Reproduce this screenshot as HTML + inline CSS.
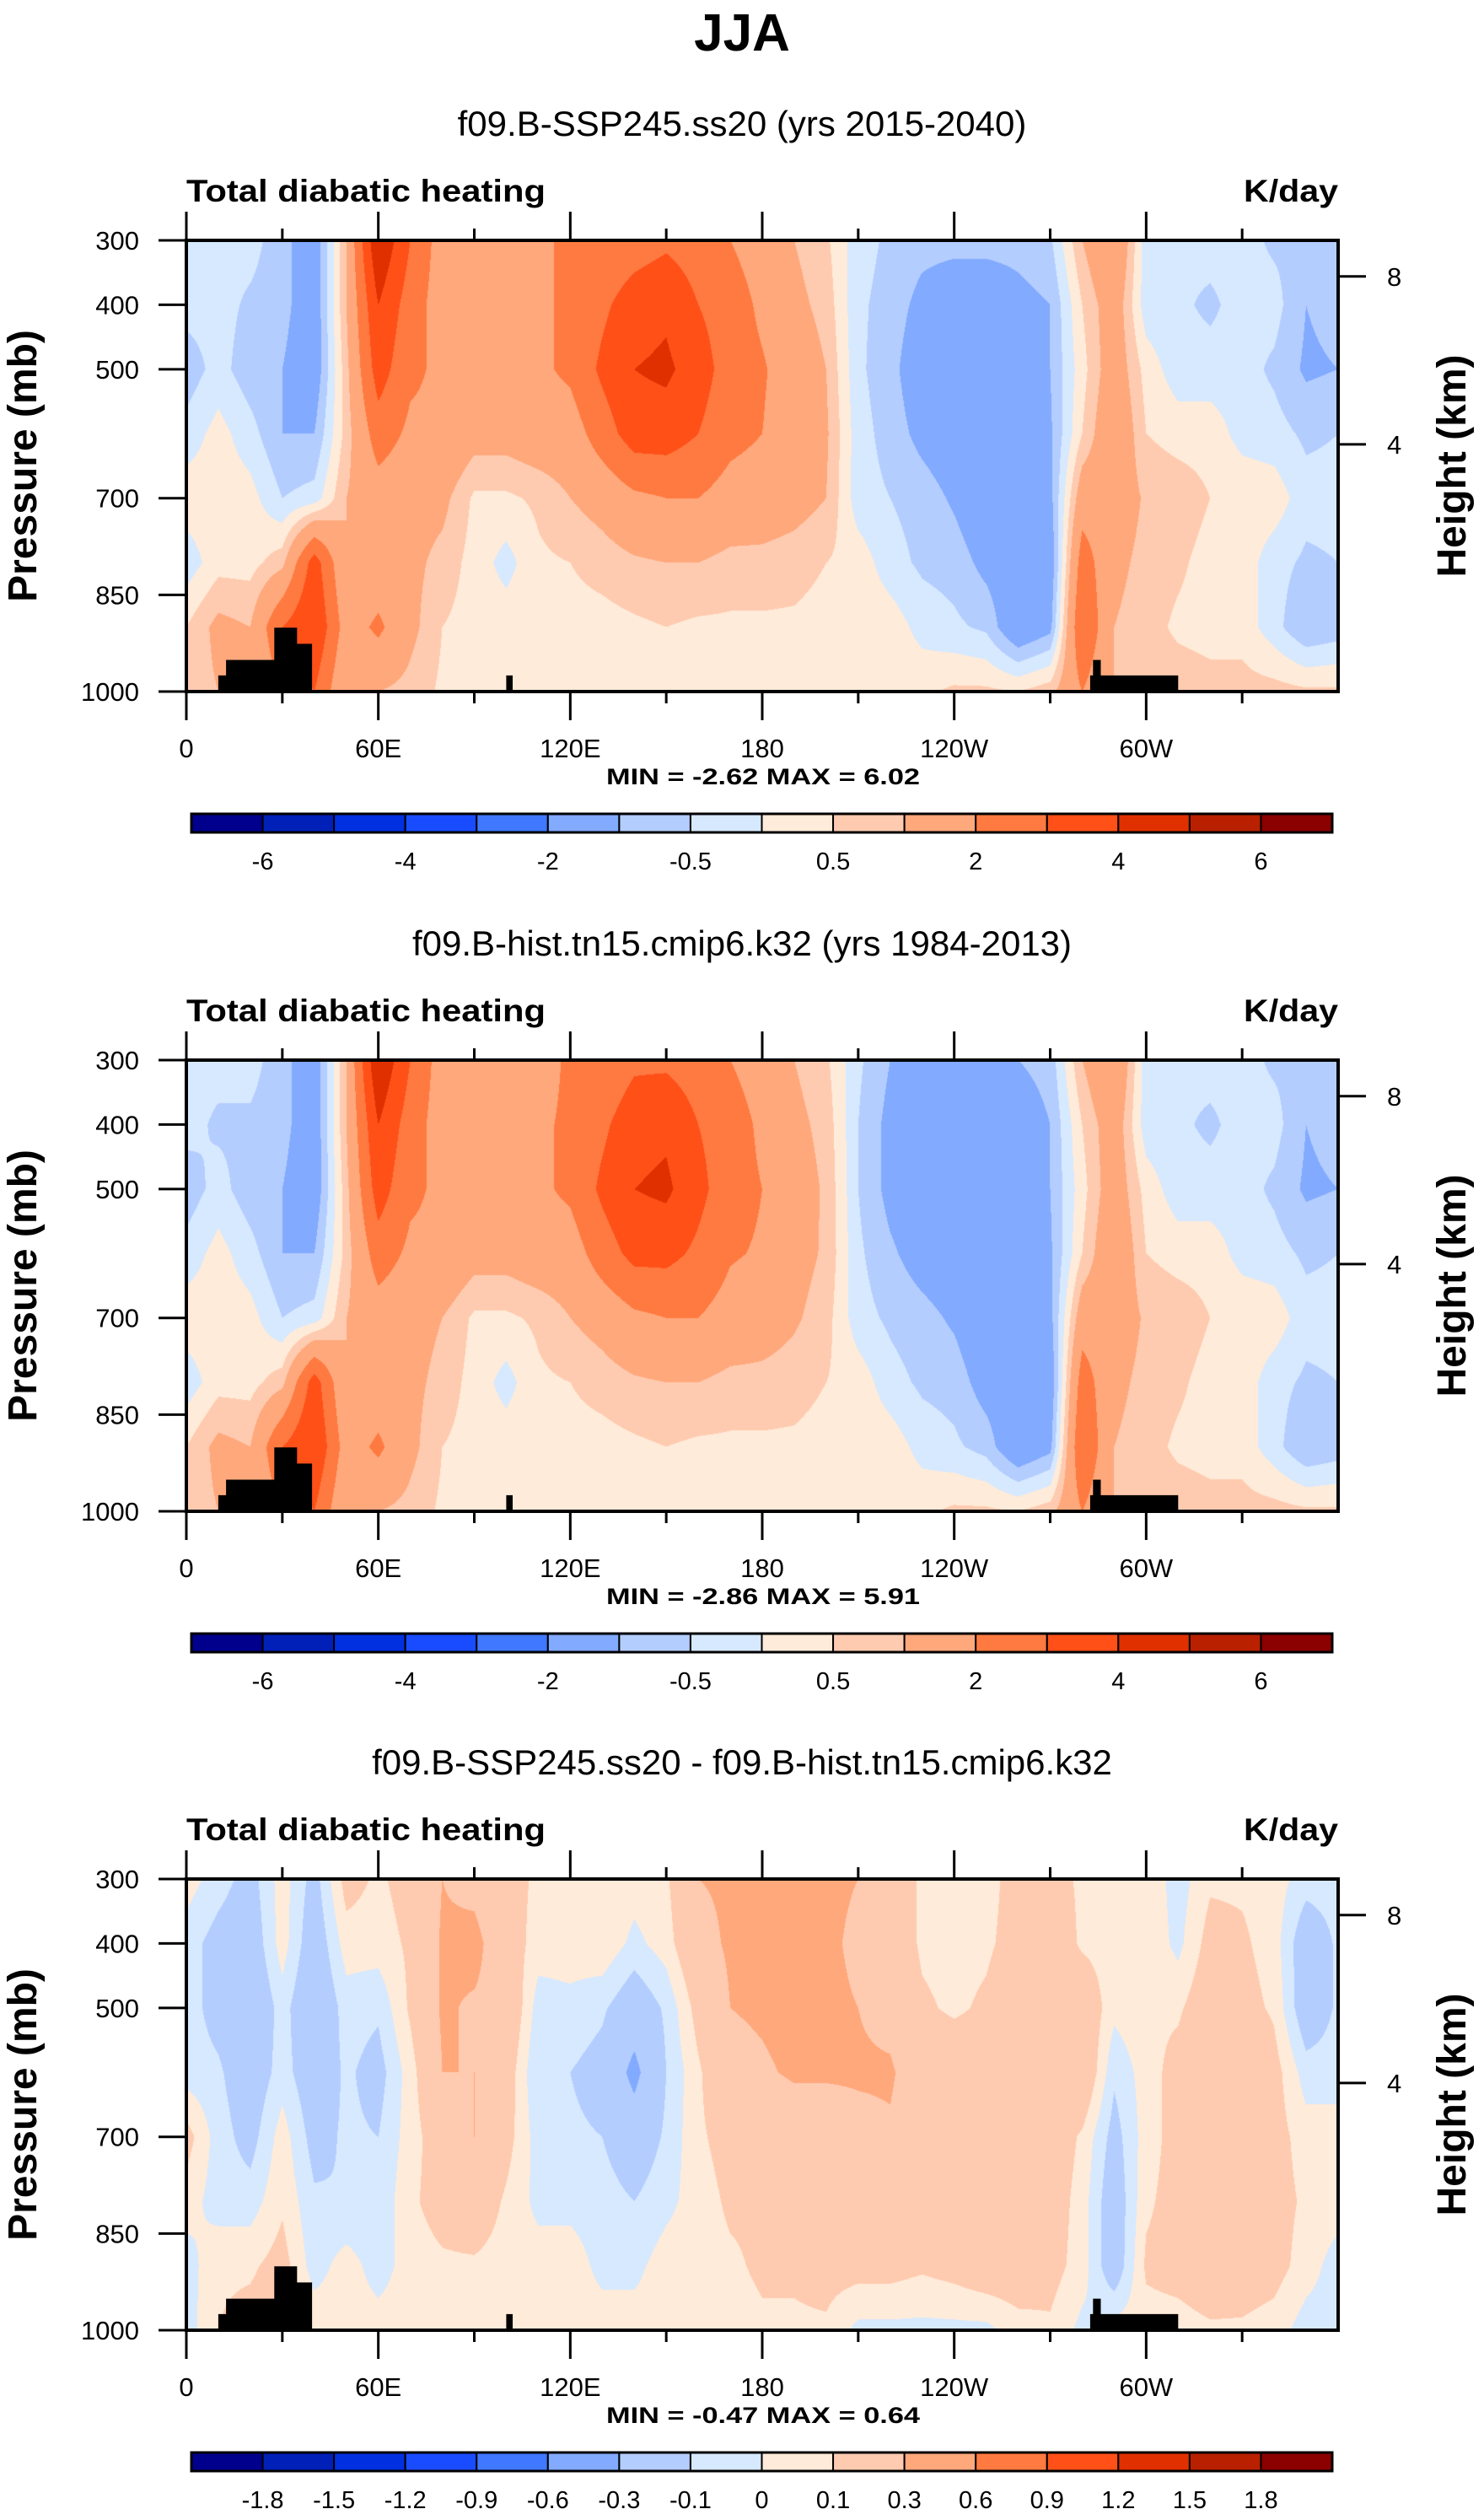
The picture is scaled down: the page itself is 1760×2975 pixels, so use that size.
<!DOCTYPE html>
<html><head><meta charset="utf-8">
<style>
html,body{margin:0;padding:0;background:#fff;}
#page{position:relative;width:1760px;height:2975px;overflow:hidden;background:#fff;font-family:"Liberation Sans",sans-serif;}
canvas{position:absolute;}
svg{position:absolute;left:0;top:0;}
</style></head>
<body>
<div id="page">
<canvas id="c1"></canvas>
<canvas id="c2"></canvas>
<canvas id="c3"></canvas>
<svg id="ov" width="1760" height="2975"></svg>
</div>
<script>
// ---- data ----
const lons = [0,10,20,30,40,50,60,70,80,90,100,110,120,130,140,150,160,170,180,190,200,210,220,230,240,250,260,270,280,290,300,310,320,330,340,350,360];
const pres = [300,400,500,600,700,800,900,1000];
const field1 = [
[-0.3,-0.3,-0.8,-0.3,0.3,-0.3,0.5,0.7],
[-0.3,-0.3,-0.3,0.2,0.3,0.3,1.2,1],
[-0.3,-0.6,-0.8,-0.3,0.2,0.3,1,1],
[-0.8,-0.8,-1,-1,-0.5,0.8,3,2],
[-1.5,-1.5,-1.5,-1,-0.3,3.5,4,3],
[1,1,0.8,0.7,1,1,1.5,1],
[5,4,3.5,2.5,1.5,1.3,2.2,1],
[3,2.5,2.2,1.8,1.3,1.2,1.2,0.8],
[1.5,1.5,1.8,1.8,1.2,0.8,0.5,0.4],
[1.2,1.5,1.5,1.3,0.4,0.3,0.3,0.3],
[1,1.5,1.5,1.3,0.4,-0.2,0.3,0.4],
[1.5,1.8,1.8,1.5,0.6,0.4,0.4,0.4],
[2.5,2.2,2.2,1.5,1,0.5,0.3,0.4],
[2.2,2.8,3.2,2.5,1.3,0.7,0.3,0.3],
[2.5,3.5,4,3.5,1.8,0.9,0.4,0.3],
[2.8,3.8,4.2,3.5,2,1,0.5,0.4],
[2.5,3,3.5,3,2,1,0.4,0.4],
[2,2.5,2.5,2.3,1.6,0.8,0.4,0.4],
[1.5,1.8,2.1,2,1.5,0.8,0.4,0.4],
[1,1.2,1.5,1.5,1.3,0.7,0.4,0.4],
[0.6,0.8,1,1.1,1,0.5,0.3,0.4],
[-0.3,-0.4,-0.4,-0.3,-0.3,0.3,0.4,0.4],
[-0.6,-0.7,-0.8,-0.7,-0.5,-0.3,0.3,0.4],
[-0.8,-1.2,-1.5,-1.2,-0.7,-0.6,-0.2,0.4],
[-0.8,-1.5,-1.5,-1.5,-1.1,-0.7,-0.4,0.6],
[-0.8,-1.5,-1.5,-1.5,-1.6,-1.2,-0.6,0.6],
[-0.8,-1.2,-1.5,-1.5,-1.5,-1.5,-1.7,0.5],
[-0.6,-1,-1,-1.1,-1.2,-1.5,-1.2,0.8],
[1,0.5,0.3,0.5,1.5,2.5,3,2],
[2,1.5,1.5,1.8,1.5,1.2,1,1],
[-0.3,-0.3,0.3,0.5,0.9,0.8,0.7,0.8],
[-0.4,-0.4,-0.3,0.3,0.8,0.6,0.4,0.8],
[-0.3,-0.6,-0.3,0.3,0.5,0.3,0.3,0.7],
[-0.3,-0.3,-0.3,-0.2,0.4,0.3,0.3,0.7],
[-0.6,-0.3,-0.6,-0.3,0.3,-0.3,-0.3,0.7],
[-0.6,-1,-1.1,-0.6,-0.3,-0.6,-1,0.6],
[-0.6,-0.8,-1,-0.5,-0.3,-0.5,-0.8,0.6]
];
const field2 = [
[-0.3,-0.3,-0.8,-0.3,0.3,-0.3,0.5,0.7],
[-0.3,-0.6,-0.3,0.2,0.3,0.3,1.2,1],
[-0.3,-0.6,-0.8,-0.3,0.2,0.3,1,1],
[-0.8,-0.8,-1,-1,-0.5,0.8,3,2],
[-1.5,-1.5,-1.5,-1,-0.3,3.5,4,3],
[1,1,0.8,0.7,1,1,1.5,1],
[5,4,3.5,2.5,1.5,1.3,2.2,1],
[3,2.5,2.2,1.8,1.3,1.2,1.2,0.8],
[1.5,1.5,1.8,1.8,1,0.8,0.5,0.4],
[1.2,1.5,1.5,1.3,0.4,0.3,0.3,0.3],
[1,1.5,1.5,1.3,0.4,-0.2,0.3,0.4],
[1.5,1.8,1.8,1.5,0.6,0.4,0.4,0.4],
[2.2,2.2,2.2,1.5,1,0.5,0.3,0.4],
[2.2,2.8,3.2,2.5,1.3,0.7,0.3,0.3],
[2.8,3.6,4,3.3,1.8,0.9,0.4,0.3],
[2.8,3.8,4.2,3.3,2,1,0.5,0.4],
[2.5,3,3.3,2.8,2,1,0.4,0.4],
[2,2.5,2.4,2.1,1.6,0.8,0.4,0.4],
[1.5,1.8,2,1.9,1.4,0.8,0.4,0.4],
[1,1.2,1.4,1.3,1.1,0.7,0.4,0.4],
[0.6,0.8,0.9,0.9,0.7,0.5,0.3,0.4],
[-0.4,-0.5,-0.5,-0.4,-0.3,0.3,0.4,0.4],
[-1,-1.2,-1.2,-0.9,-0.6,-0.3,0.3,0.4],
[-1.2,-1.5,-1.5,-1.3,-0.8,-0.6,-0.2,0.4],
[-1.2,-1.6,-1.6,-1.5,-1.1,-0.7,-0.4,0.6],
[-1.2,-1.6,-1.6,-1.5,-1.6,-1.3,-0.7,0.6],
[-1,-1.4,-1.5,-1.5,-1.5,-1.5,-1.7,0.5],
[-0.8,-1,-1,-1.1,-1.2,-1.5,-1.2,0.8],
[1,0.5,0.3,0.5,1.5,2.5,3,2],
[2,1.5,1.5,1.8,1.5,1.2,1,1],
[-0.3,-0.3,0.3,0.5,0.9,0.8,0.7,0.8],
[-0.4,-0.4,-0.3,0.3,0.8,0.6,0.4,0.8],
[-0.3,-0.6,-0.3,0.3,0.5,0.3,0.3,0.7],
[-0.3,-0.3,-0.3,-0.2,0.4,0.3,0.3,0.7],
[-0.6,-0.3,-0.6,-0.3,0.3,-0.3,-0.3,0.7],
[-0.6,-1,-1.1,-0.6,-0.3,-0.6,-1,0.6],
[-0.6,-0.8,-1,-0.5,-0.3,-0.5,-0.8,0.6]
];
const field3 = [
[0.05,-0.05,-0.05,-0.05,0.15,0.05,-0.05,-0.05],
[-0.05,-0.15,-0.15,-0.08,-0.05,-0.05,0.08,0.1],
[-0.15,-0.2,-0.25,-0.2,-0.15,-0.05,0.08,0.15],
[0.05,0.05,-0.05,-0.05,0.05,0.08,0.15,0.2],
[-0.15,-0.2,-0.25,-0.2,-0.15,-0.08,-0.05,0.08],
[0.15,0.05,-0.05,-0.08,-0.08,-0.1,0.05,0.05],
[0.08,0.05,-0.08,-0.15,-0.1,-0.08,-0.05,0.05],
[0.15,0.12,0.12,0.05,0.05,0.08,0.05,0.05],
[0.3,0.32,0.32,0.3,0.18,0.15,0.08,0.05],
[0.25,0.35,0.28,0.3,0.3,0.2,0.08,0.05],
[0.15,0.18,0.25,0.18,0.15,0.08,0.05,0.05],
[0.08,0.05,-0.05,-0.1,-0.05,-0.03,0.05,0.05],
[0.08,0.05,-0.03,-0.1,-0.08,-0.03,0.05,0.05],
[0.1,0.08,-0.08,-0.15,-0.1,-0.05,-0.03,0.05],
[0.05,-0.03,-0.2,-0.35,-0.2,-0.1,-0.03,0.05],
[0.08,0.05,-0.08,-0.1,-0.08,-0.03,0.05,0.05],
[0.3,0.25,0.15,0.08,0.08,0.05,0.05,0.05],
[0.32,0.32,0.3,0.25,0.15,0.12,0.08,0.05],
[0.32,0.35,0.32,0.28,0.18,0.12,0.12,0.08],
[0.35,0.35,0.35,0.32,0.2,0.15,0.12,0.08],
[0.35,0.35,0.35,0.32,0.2,0.15,0.15,0.08],
[0.3,0.25,0.3,0.32,0.25,0.2,0.15,-0.03],
[0.2,0.2,0.25,0.32,0.28,0.2,0.15,-0.03],
[0.08,0.08,0.12,0.2,0.2,0.18,0.12,-0.03],
[0.06,0.06,0.08,0.2,0.2,0.2,0.15,-0.03],
[0.06,0.08,0.12,0.18,0.2,0.25,0.2,-0.03],
[0.15,0.15,0.2,0.2,0.2,0.2,0.2,0.05],
[0.15,0.2,0.2,0.2,0.2,0.18,0.15,0.08],
[0.08,0.08,0.22,0.25,0.08,0.05,0.05,-0.03],
[0.05,0.05,0.03,-0.08,-0.15,-0.2,-0.2,0.05],
[0.08,0.08,0.08,0.05,0.05,0.08,0.12,0.05],
[-0.05,-0.03,0.08,0.15,0.15,0.15,0.15,0.05],
[0.08,0.15,0.2,0.28,0.25,0.22,0.2,0.08],
[0.08,0.12,0.15,0.3,0.28,0.22,0.18,0.08],
[0.05,0.05,0.08,0.15,0.15,0.15,0.15,0.05],
[-0.05,-0.2,-0.2,-0.05,0.05,0.08,0.05,-0.05],
[-0.05,-0.08,-0.08,-0.05,0.05,0.05,-0.05,-0.05]
];
const levelsAbs = [-6,-5,-4,-3,-2,-1,-0.5,0,0.5,1,2,3,4,5,6];
const labelsAbs = ["-6","-4","-2","-0.5","0.5","2","4","6"];
const labelIdxAbs = [0,2,4,6,8,10,12,14];
const levelsDiff = [-1.8,-1.5,-1.2,-0.9,-0.6,-0.3,-0.1,0,0.1,0.3,0.6,0.9,1.2,1.5,1.8];
const labelsDiff = ["-1.8","-1.5","-1.2","-0.9","-0.6","-0.3","-0.1","0","0.1","0.3","0.6","0.9","1.2","1.5","1.8"];
const labelIdxDiff = [0,1,2,3,4,5,6,7,8,9,10,11,12,13,14];
const colors = ["#00008c","#0020b8","#0030e0","#1a4cff","#4078ff","#82aaff","#b4cdff","#d6e9ff","#ffebd9","#ffcbb0","#ffa87c","#ff7a40","#ff5018","#e03000","#b82000","#8b0000"];
const xTickLons = [0,60,120,180,240,300];
const xTickLabels = ["0","60E","120E","180","120W","60W"];
const pTicks = [300,400,500,700,850,1000];
const zTicks = [8,4];
const topoAfrica = [[10,1000],[10,975],[12.4,975],[12.4,951],[24.9,951],[27.5,951],[27.5,901],[34.6,901],[34.6,926],[39.3,926],[39.3,1000]];
const topoAsia = [[100,1000],[100,975],[102,975],[102,1000]];
const topoAmer = [[282.5,1000],[282.5,975],[283.4,975],[283.4,951],[285.8,951],[285.8,975],[310,975],[310,1000]];
const titles = ["f09.B-SSP245.ss20 (yrs 2015-2040)","f09.B-hist.tn15.cmip6.k32 (yrs 1984-2013)","f09.B-SSP245.ss20 - f09.B-hist.tn15.cmip6.k32"];
const minmax = ["MIN =  -2.62  MAX =   6.02","MIN =  -2.86  MAX =   5.91","MIN =  -0.47  MAX =   0.64"];

// ---- layout ----
const PX = 221, PW = 1366, PH = 535;
const tops = [285,1257,2228];
const NS = "http://www.w3.org/2000/svg";
const svg = document.getElementById('ov');
function mk(tag, attrs, txt){const e=document.createElementNS(NS,tag);for(const k in attrs)e.setAttribute(k,attrs[k]);if(txt!==undefined)e.textContent=txt;svg.appendChild(e);return e;}
function xScale(lon){return PX + lon/360*PW;}
function yScale(T,p){return T + (p-300)/700*PH;}
function zToP(z){return 1013.25*Math.pow(1-2.25577e-5*z*1000,5.25588);}
function hex(c){return [parseInt(c.substr(1,2),16),parseInt(c.substr(3,2),16),parseInt(c.substr(5,2),16)];}
const rgb = colors.map(hex);
function binOf(v,lev){let i=0;while(i<lev.length && v>=lev[i])i++;return i;}

function drawField(canvasId,T,field,lev){
  const cv=document.getElementById(canvasId);
  cv.width=PW;cv.height=PH;cv.style.left=PX+'px';cv.style.top=T+'px';
  const ctx=cv.getContext('2d');
  const img=ctx.createImageData(PW,PH);
  const nL=lons.length, nP=pres.length;
  const dLon=lons[1]-lons[0], dP=pres[1]-pres[0];
  for(let py=0;py<PH;py++){
    const p=300+(py+0.5)/PH*700;
    let r=(p-pres[0])/dP; if(r<0)r=0; if(r>nP-1)r=nP-1;
    const r0=Math.min(Math.floor(r),nP-2), fr=r-r0;
    for(let px=0;px<PW;px++){
      const lon=(px+0.5)/PW*360;
      let c=(lon-lons[0])/dLon; if(c>nL-1)c=nL-1;
      const c0=Math.min(Math.floor(c),nL-2), fc=c-c0;
      const v=(field[c0][r0]*(1-fc)+field[c0+1][r0]*fc)*(1-fr)+(field[c0][r0+1]*(1-fc)+field[c0+1][r0+1]*fc)*fr;
      const col=rgb[binOf(v,lev)];
      const k=(py*PW+px)*4;
      img.data[k]=col[0];img.data[k+1]=col[1];img.data[k+2]=col[2];img.data[k+3]=255;
    }
  }
  ctx.putImageData(img,0,0);
}

function drawTopo(T,poly,name){
  const pts=poly.map(q=>xScale(q[0]).toFixed(1)+','+yScale(T,q[1]).toFixed(1)).join(' ');
  const e=mk('polygon',{points:pts,fill:'#000'});
  
  
}

function panel(i,field,lev,labels,labelIdx){
  const T=tops[i];
  drawField('c'+(i+1),T,field,lev);
  drawTopo(T,topoAfrica,'topography-africa');
  drawTopo(T,topoAsia,'topography-asia');
  drawTopo(T,topoAmer,'topography-south-america');
  let e;
  e=mk('text',{x:880,y:T-124,'text-anchor':'middle','font-size':42,fill:'#000'},titles[i]);
  
  
  e=mk('text',{x:PX,y:T-46,'font-size':37,'font-weight':'bold',fill:'#000',textLength:426,lengthAdjust:'spacingAndGlyphs'},'Total diabatic heating');
  
  
  e=mk('text',{x:PX+PW,y:T-46,'text-anchor':'end','font-size':37,'font-weight':'bold',fill:'#000',textLength:112,lengthAdjust:'spacingAndGlyphs'},'K/day');
  
  
  e=mk('rect',{x:PX,y:T,width:PW,height:PH,fill:'none',stroke:'#000','stroke-width':4});
  
  
  for(let lon=0;lon<=330;lon+=30){
    const major=lon%60===0, x=xScale(lon), len=major?34:14;
    e=mk('line',{x1:x,x2:x,y1:T,y2:T-len,stroke:'#000','stroke-width':3});
    
    
    e=mk('line',{x1:x,x2:x,y1:T+PH,y2:T+PH+len,stroke:'#000','stroke-width':3});
    
    
  }
  xTickLons.forEach((lon,j)=>{
    const t=mk('text',{x:xScale(lon),y:T+613,'text-anchor':'middle','font-size':31,fill:'#000'},xTickLabels[j]);
    
    
  });
  pTicks.forEach(p=>{
    const y=yScale(T,p);
    const l=mk('line',{x1:PX-33,x2:PX,y1:y,y2:y,stroke:'#000','stroke-width':3});
    
    
    const t=mk('text',{x:165,y:y+11,'text-anchor':'end','font-size':31,fill:'#000'},String(p));
    
    
  });
  zTicks.forEach(z=>{
    const y=yScale(T,zToP(z));
    const l=mk('line',{x1:PX+PW,x2:PX+PW+33,y1:y,y2:y,stroke:'#000','stroke-width':3});
    
    
    const t=mk('text',{x:1645,y:y+11,'font-size':31,fill:'#000'},String(z));
    
    
  });
  const cy=T+PH/2;
  e=mk('text',{x:0,y:0,'text-anchor':'middle','font-size':48,'font-weight':'bold',fill:'#000',transform:'translate(43,'+cy+') rotate(-90)'},'Pressure (mb)');
  
  
  e=mk('text',{x:0,y:0,'text-anchor':'middle','font-size':48,'font-weight':'bold',fill:'#000',transform:'translate(1738,'+cy+') rotate(-90)'},'Height (km)');
  
  
  e=mk('text',{x:905,y:T+645,'text-anchor':'middle','font-size':27,'font-weight':'bold',fill:'#000',textLength:372,lengthAdjust:'spacingAndGlyphs'},minmax[i]);
  
  
  const cbX=227, cbW=1353, cbY=T+680, cbH=22, n=colors.length, bw=cbW/n;
  colors.forEach((c,j)=>{
    const r=mk('rect',{x:cbX+j*bw,y:cbY,width:bw,height:cbH,fill:c,stroke:'#000','stroke-width':2});
    
    
  });
  e=mk('rect',{x:cbX,y:cbY,width:cbW,height:cbH,fill:'none',stroke:'#000','stroke-width':3});
  
  
  labelIdx.forEach((b,j)=>{
    const t=mk('text',{x:cbX+(b+1)*bw,y:cbY+66,'text-anchor':'middle','font-size':29,fill:'#000'},labels[j]);
    
    
  });
}

const main=mk('text',{x:880,y:60,'text-anchor':'middle','font-size':62,'font-weight':'bold',fill:'#000'},'JJA');


panel(0,field1,levelsAbs,labelsAbs,labelIdxAbs);
panel(1,field2,levelsAbs,labelsAbs,labelIdxAbs);
panel(2,field3,levelsDiff,labelsDiff,labelIdxDiff);
</script>
</body></html>
